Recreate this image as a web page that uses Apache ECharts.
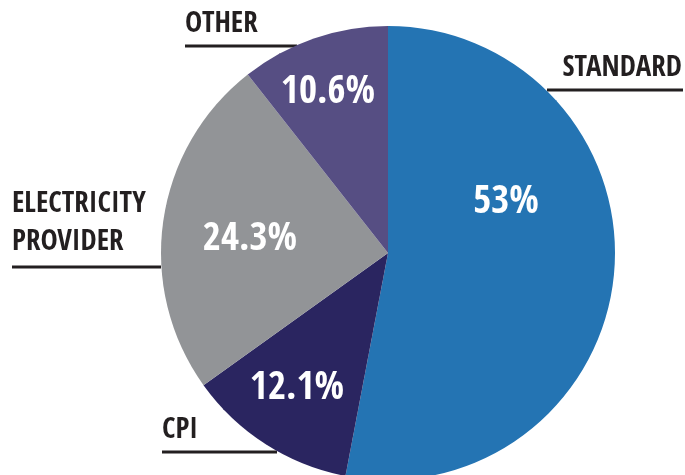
<!DOCTYPE html>
<html>
<head>
<meta charset="utf-8">
<script src="https://cdn.jsdelivr.net/npm/echarts@6/dist/echarts.min.js"></script>
<style>
  html, body { margin: 0; padding: 0; background: #fff; }
  #chart { width: 685px; height: 475px; }
</style>
</head>
<body>
<div id="chart"></div>
<script>
// share of each category, clockwise from 12 o'clock
const categories = ['STANDARD', 'CPI', 'ELECTRICITY PROVIDER', 'OTHER']
const shares = [53, 12.1, 24.3, 10.6]
const colors = ['#2474b3', '#2a2560', '#929497', '#564e83']

const font = '"Open Sans Condensed", "Roboto Condensed", "DejaVu Sans Condensed", sans-serif'

// where the labels sit (by data index)
const innerPos = [[506, 203], [297, 389], [250, 240], [328, 93]]
const outerPos = [
  { x: 682, y: 68, align: 'right', line: [[683, 90], [547, 90], [547, 90]] },
  { x: 162, y: 430, align: 'left', line: [[162, 452], [277, 452], [277, 452]] },
  { x: 12, y: 223, align: 'left', line: [[12, 267], [161, 267], [161, 267]] },
  { x: 185, y: 24, align: 'left', line: [[185, 46], [297, 46], [297, 46]] }
]

const pieData = categories.map((name, i) => ({
  name: name,
  value: shares[i],
  itemStyle: { color: colors[i] }
}))

const chart = echarts.init(document.getElementById('chart'))
chart.setOption({
  animation: false,
  series: [{
    type: 'pie',
    center: [388, 253],
    radius: 227,
    startAngle: 90,
    clockwise: true,
    silent: true,
    itemStyle: { borderWidth: 0 },
    label: {
      show: true,
      position: 'inside',
      formatter: p => p.value + '%',
      color: '#fff',
      fontFamily: font,
      fontWeight: 'bold',
      fontSize: 39
    },
    labelLayout: p => ({
      x: innerPos[p.dataIndex][0],
      y: innerPos[p.dataIndex][1],
      align: 'center',
      verticalAlign: 'middle'
    }),
    data: pieData
  }, {
    type: 'pie',
    center: [388, 253],
    radius: 227,
    startAngle: 90,
    clockwise: true,
    silent: true,
    itemStyle: { color: 'transparent', borderWidth: 0 },
    label: {
      show: true,
      position: 'outside',
      overflow: 'none',
      formatter: p => p.name.replace(' ', '\n'),
      color: '#231f20',
      fontFamily: font,
      fontWeight: 'bold',
      fontSize: 29,
      lineHeight: 38
    },
    labelLine: {
      show: true,
      lineStyle: { color: '#231f20', width: 3 }
    },
    labelLayout: p => {
      const o = outerPos[p.dataIndex]
      return {
        x: o.x,
        y: o.y,
        align: o.align,
        verticalAlign: 'middle',
        labelLinePoints: o.line
      }
    },
    data: categories.map((name, i) => ({ name: name, value: shares[i], itemStyle: { color: 'transparent' } }))
  }]
})
</script>
</body>
</html>
